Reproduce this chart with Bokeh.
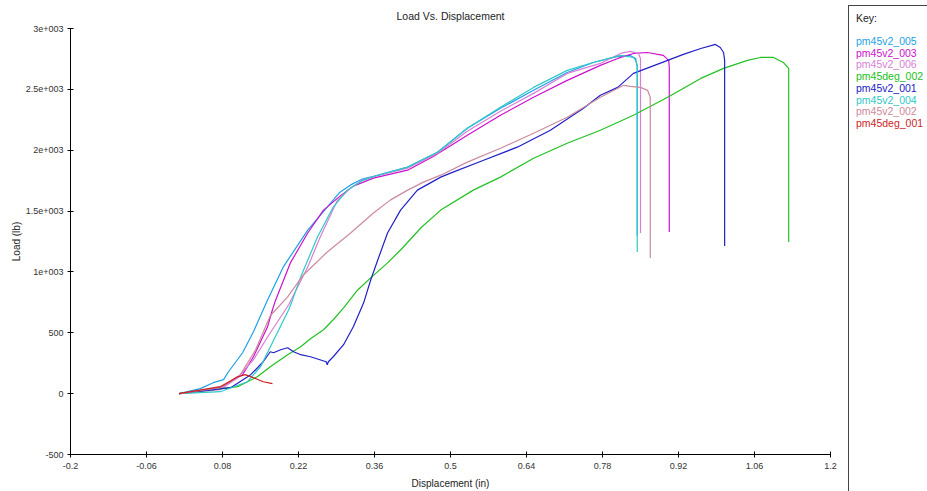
from bokeh.plotting import figure
from bokeh.models import Range1d, FixedTicker, Div
from bokeh.layouts import row
from bokeh.embed import file_html
from bokeh.resources import INLINE

# ---------------- data ----------------
series_names = ["pm45v2_005", "pm45v2_003", "pm45v2_006", "pm45deg_002",
                "pm45v2_001", "pm45v2_004", "pm45v2_002", "pm45deg_001"]
series_colors = ["#1E9FE6", "#CC11CC", "#D77FD7", "#22C022",
                 "#2020C8", "#30C8C8", "#CC8A9E", "#CC1F1F"]

disp_005 = [0.0, 0.039, 0.063, 0.082, 0.091, 0.117, 0.137, 0.155, 0.163, 0.192, 0.237, 0.273, 0.295, 0.316,
            0.336, 0.358, 0.421, 0.476, 0.531, 0.592, 0.653, 0.715, 0.763, 0.808, 0.831, 0.841, 0.844, 0.844]
load_005 = [0, 41, 90, 115, 180, 336, 508, 689, 770, 1041, 1344, 1533, 1650, 1715,
            1760, 1785, 1861, 1984, 2180, 2344, 2492, 2639, 2721, 2771, 2779, 2754, 2680, 1300]

disp_003 = [0.0, 0.076, 0.117, 0.137, 0.163, 0.172, 0.178, 0.205, 0.237, 0.266, 0.297, 0.321, 0.358, 0.421,
            0.469, 0.531, 0.592, 0.653, 0.715, 0.776, 0.808, 0.837, 0.863, 0.892, 0.902, 0.903, 0.903]
load_003 = [0, 49, 156, 303, 549, 689, 770, 1074, 1320, 1508, 1625, 1705, 1771, 1836,
            1951, 2123, 2287, 2435, 2574, 2697, 2754, 2795, 2803, 2779, 2738, 2680, 1328]

disp_006 = [0.0, 0.076, 0.108, 0.137, 0.168, 0.202, 0.237, 0.260, 0.292, 0.316, 0.336, 0.358, 0.421, 0.476,
            0.531, 0.592, 0.653, 0.715, 0.776, 0.813, 0.831, 0.846, 0.850, 0.850]
load_006 = [0, 33, 131, 279, 500, 730, 1041, 1287, 1590, 1690, 1750, 1782, 1853, 1975,
            2156, 2320, 2467, 2631, 2713, 2795, 2812, 2795, 2754, 1320]

disp_deg002 = [0.0, 0.108, 0.144, 0.168, 0.200, 0.224, 0.242, 0.266, 0.284, 0.303, 0.329, 0.353, 0.384,
               0.408, 0.447, 0.482, 0.542, 0.592, 0.653, 0.715, 0.776, 0.837, 0.900, 0.961, 1.003,
               1.047, 1.071, 1.095, 1.113, 1.123, 1.123]
load_deg002 = [0, 57, 139, 221, 320, 385, 451, 525, 607, 705, 852, 951, 1074,
               1180, 1369, 1508, 1672, 1779, 1934, 2057, 2164, 2287, 2435, 2590, 2672,
               2738, 2762, 2762, 2721, 2672, 1246]

disp_001 = [0.0, 0.095, 0.132, 0.155, 0.168, 0.174, 0.187, 0.200, 0.211, 0.224, 0.242, 0.271, 0.273,
            0.275, 0.284, 0.303, 0.321, 0.340, 0.353, 0.366, 0.384, 0.408, 0.439, 0.482, 0.500,
            0.561, 0.623, 0.684, 0.745, 0.776, 0.808, 0.837, 0.900, 0.929, 0.961, 0.988, 0.997,
            1.003, 1.005, 1.005]
load_001 = [0, 49, 156, 262, 344, 336, 361, 377, 344, 320, 303, 262, 238,
            262, 303, 402, 549, 746, 934, 1098, 1320, 1508, 1672, 1779, 1812,
            1918, 2025, 2164, 2344, 2451, 2516, 2631, 2738, 2787, 2836, 2869, 2844,
            2803, 2738, 1213]

disp_004 = [0.0, 0.076, 0.126, 0.150, 0.181, 0.202, 0.209, 0.224, 0.255, 0.284, 0.310, 0.336, 0.358, 0.421,
            0.476, 0.531, 0.592, 0.653, 0.715, 0.763, 0.813, 0.837, 0.841, 0.844, 0.844]
load_004 = [0, 16, 98, 221, 500, 689, 770, 959, 1287, 1533, 1672, 1748, 1782, 1861,
            1984, 2180, 2353, 2516, 2656, 2721, 2779, 2762, 2738, 2697, 1164]

disp_002 = [0.0, 0.076, 0.113, 0.141, 0.168, 0.200, 0.229, 0.273, 0.316, 0.358, 0.389, 0.421, 0.450,
            0.482, 0.531, 0.592, 0.653, 0.715, 0.776, 0.819, 0.831, 0.850, 0.863, 0.868, 0.868]
load_002 = [0, 49, 156, 361, 640, 795, 975, 1164, 1320, 1484, 1590, 1672, 1738,
            1795, 1902, 2016, 2139, 2271, 2435, 2533, 2525, 2516, 2492, 2435, 1115]

disp_deg001 = [0.0, 0.076, 0.108, 0.122, 0.137, 0.155, 0.172]
load_deg001 = [0, 57, 139, 156, 131, 98, 82]

series_disp = [disp_005, disp_003, disp_006, disp_deg002, disp_001, disp_004, disp_002, disp_deg001]
series_load = [load_005, load_003, load_006, load_deg002, load_001, load_004, load_002, load_deg001]

x_ticks = [-0.2, -0.06, 0.08, 0.22, 0.36, 0.5, 0.64, 0.78, 0.92, 1.06, 1.2]
x_tick_labels = ["-0.2", "-0.06", "0.08", "0.22", "0.36", "0.5", "0.64", "0.78", "0.92", "1.06", "1.2"]
y_ticks = [-500, 0, 500, 1000, 1500, 2000, 2500, 3000]
y_tick_labels = ["-500", "0", "500", "1e+003", "1.5e+003", "2e+003", "2.5e+003", "3e+003"]

FONT = "Liberation Sans"

# ---------------- main plot ----------------
p = figure(width=848, height=491, x_range=Range1d(-0.2, 1.2), y_range=Range1d(-500, 3000),
           output_backend="svg", toolbar_location=None,
           min_border_left=70, min_border_right=18, min_border_top=27, min_border_bottom=36,
           title="Load Vs. Displacement")
p.title.align = "center"
p.title.text_font = FONT
p.title.text_font_size = "10.5px"
p.title.text_font_style = "normal"
p.title.text_color = "#222222"
p.title.standoff = 14
p.grid.visible = False
p.outline_line_color = None
p.background_fill_color = "white"
p.border_fill_color = "white"

for xs, ys, c in zip(series_disp, series_load, series_colors):
    p.line(xs, ys, line_color=c, line_width=1.2)

p.xaxis.ticker = FixedTicker(ticks=x_ticks)
p.xaxis.major_label_overrides = dict(zip(x_ticks, x_tick_labels))
p.yaxis.ticker = FixedTicker(ticks=y_ticks)
p.yaxis.major_label_overrides = dict(zip(y_ticks, y_tick_labels))
p.xaxis.axis_label = "Displacement (in)"
p.yaxis.axis_label = "Load (lb)"
for ax in (p.xaxis, p.yaxis):
    ax.axis_line_color = "black"
    ax.axis_line_width = 1
    ax.major_tick_line_color = "black"
    ax.major_tick_in = 3
    ax.major_tick_out = 3
    ax.minor_tick_line_color = None
    ax.major_label_text_font = FONT
    ax.major_label_text_font_size = "9px"
    ax.major_label_text_color = "#333333"
    ax.axis_label_text_font = FONT
    ax.axis_label_text_font_size = "10px"
    ax.axis_label_text_font_style = "normal"
    ax.axis_label_text_color = "#222222"
p.xaxis.major_label_standoff = 5
p.xaxis.axis_label_standoff = 6
p.yaxis.major_label_standoff = 4
p.yaxis.axis_label_standoff = 1

# ---------------- key panel ----------------
key_rows = ['<div style="position:absolute;left:8px;top:12px;line-height:12px;'
            'font-size:10.5px;color:#222222;white-space:nowrap;">Key:</div>']
for i, (name, color) in enumerate(zip(series_names, series_colors)):
    top = 35 + 11.7 * i
    key_rows.append(f'<div style="position:absolute;left:8px;top:{top:.1f}px;line-height:12px;'
                    f'font-size:10.5px;color:{color};white-space:nowrap;">{name}</div>')
key_html = ('<div style="position:relative;width:79px;height:491px;overflow:hidden;'
            f'font-family:\'{FONT}\';background:white;">'
            '<div style="position:absolute;left:0px;top:5px;width:200px;height:600px;'
            'border-left:1px solid #444444;border-top:1px solid #444444;"></div>'
            + "".join(key_rows) + '</div>')
key = Div(text=key_html, width=79, height=491, margin=0)

layout = row(p, key)
open("out.html", "w").write(file_html(layout, INLINE))
